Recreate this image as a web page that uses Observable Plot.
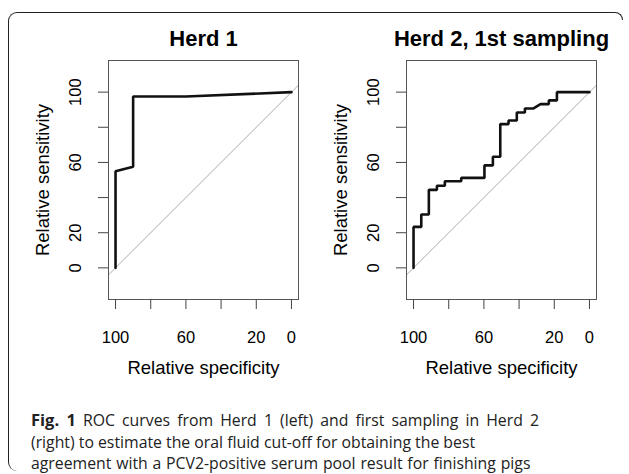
<!DOCTYPE html>
<html><head><meta charset="utf-8">
<script src="https://cdn.jsdelivr.net/npm/d3@7"></script>
<script src="https://cdn.jsdelivr.net/npm/@observablehq/plot@0.6"></script>
<style>
html,body{margin:0;padding:0;background:#fff;}
body{width:629px;height:474px;position:relative;overflow:hidden;font-family:"Liberation Sans",Arial,sans-serif;}
#box{position:absolute;left:8px;top:12px;width:606px;height:458px;border-top:1.5px solid #222;border-left:1.5px solid #222;border-radius:9px 0 0 9px;}
#tr{position:absolute;left:606px;top:12px;width:16px;height:7px;border-top:1.5px solid #222;border-right:1.5px solid #222;border-radius:0 9px 0 0;}
.panel{position:absolute;top:0;}
#caption{position:absolute;left:31px;top:409px;font-family:"Open Sans",sans-serif;font-size:15.8px;line-height:21.5px;color:#222;white-space:nowrap;}
#caption b{font-weight:700;font-size:16.5px;}
#caption .l1{word-spacing:3px;}
#caption .l3{word-spacing:0.7px;}
</style>
</head><body>
<div id="box"></div><div id="tr"></div>
<div id="p1" class="panel" style="left:0px"></div>
<div id="p2" class="panel" style="left:310px"></div>
<div id="caption"><span class="l1"><b>Fig. 1</b> ROC curves from Herd 1 (left) and first sampling in Herd 2</span><br>(right) to estimate the oral fluid cut-off for obtaining the best<br><span class="l3">agreement with a PCV2-positive serum pool result for finishing pigs</span></div>
<script>
// ---- data ----
const titles = ["Herd 1", "Herd 2, 1st sampling"];
const xLabel = "Relative specificity";
const yLabel = "Relative sensitivity";
const xTicks = [100, 80, 60, 40, 20, 0];
const yTicks = [0, 20, 40, 60, 80, 100];
const xTickLabels = [100, 60, 20, 0];
const yTickLabels = [0, 20, 60, 100];

const herd1Spec = [100, 100, 90, 90, 60, 0];
const herd1Sens = [0, 55, 57.5, 97.5, 97.5, 100];

const herd2Spec = [100, 100, 95.6, 95.6, 91.3, 91.3, 86.7, 86.7, 82.2, 82.2, 72.9, 72.9, 59.7, 59.7, 54.9, 54.9, 50.7, 50.7, 46.0, 46.0, 41.3, 41.3, 36.7, 36.7, 31.8, 27.8, 23.1, 23.1, 18.5, 18.5, 0];
const herd2Sens = [0, 23.3, 23.3, 30.4, 30.4, 44.4, 44.4, 46.7, 46.7, 49.3, 49.3, 51.2, 51.2, 58.3, 58.3, 63.2, 63.2, 81.8, 81.8, 83.9, 83.9, 88.4, 88.4, 90.7, 90.7, 93.2, 93.2, 95.3, 95.3, 100, 100];

const xDomain = [104, -4];
const yDomain = [-18, 118];

function panel(title, spec, sens, width, marginLeft) {
  const data = spec.map((s, i) => ({spec: s, sens: sens[i]}));
  const frameW = 190;
  return Plot.plot({
    width, height: 380,
    marginLeft, marginRight: width - marginLeft - frameW,
    marginTop: 60, marginBottom: 81,
    x: {domain: xDomain, axis: null},
    y: {domain: yDomain, axis: null},
    style: {fontFamily: '"Liberation Sans", Arial, sans-serif', background: "transparent", overflow: "visible", color: "#000"},
    marks: [
      Plot.link([0], {x1: xDomain[0], y1: 100 - xDomain[0], x2: xDomain[1], y2: 100 - xDomain[1], stroke: "#aaaaaa", strokeWidth: 1}),
      Plot.frame({stroke: "#555"}),
      Plot.line(data, {x: "spec", y: "sens", stroke: "#111", strokeWidth: 2.6, strokeLinejoin: "miter"}),
      Plot.axisX({ticks: xTicks, tickSize: 10, tickFormat: () => "", label: null, stroke: "#444"}),
      Plot.axisY({ticks: yTicks, tickSize: 10, tickFormat: () => "", label: null, stroke: "#444"}),
      Plot.text(xTickLabels, {x: d => d, frameAnchor: "bottom", lineAnchor: "bottom", textAnchor: "middle", dy: 43, fontSize: 16.5, fill: "#000"}),
      Plot.text(yTickLabels, {y: d => d, frameAnchor: "left", lineAnchor: "bottom", textAnchor: "middle", dx: -28, rotate: -90, fontSize: 16.5, fill: "#000"}),
      Plot.text([xLabel], {frameAnchor: "bottom", lineAnchor: "bottom", textAnchor: "middle", dy: 74, fontSize: 18.5, fill: "#000"}),
      Plot.text([yLabel], {frameAnchor: "left", lineAnchor: "bottom", textAnchor: "middle", dx: -60, rotate: -90, fontSize: 18.5, fill: "#000"}),
      Plot.text([title], {frameAnchor: "top", lineAnchor: "bottom", textAnchor: "middle", dy: -15, fontSize: 22, fontWeight: "bold", fill: "#000"})
    ]
  });
}

document.getElementById("p1").append(panel(titles[0], herd1Spec, herd1Sens, 315, 108));
document.getElementById("p2").append(panel(titles[1], herd2Spec, herd2Sens, 319, 96));
</script>
</body></html>
